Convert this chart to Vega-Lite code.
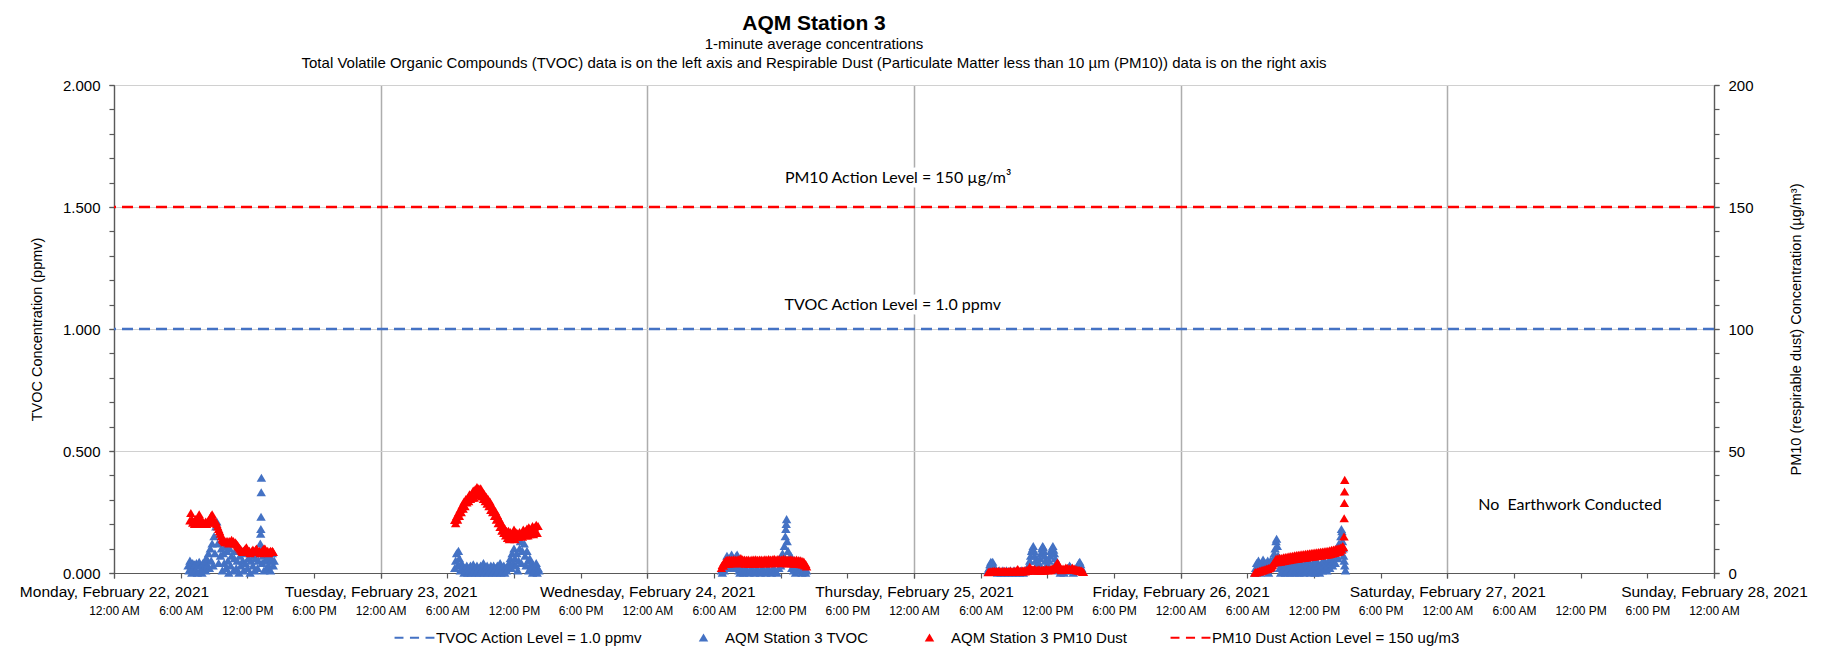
{
"$schema":"https://vega.github.io/schema/vega-lite/v6.json",
"width":1600,"height":488,
"autosize":"none",
"padding":{"left":114,"top":85,"right":109,"bottom":83},
"background":"white",
"title":{"text":"AQM Station 3","subtitle":["1-minute average concentrations","Total Volatile Organic Compounds (TVOC) data is on the left axis and Respirable Dust (Particulate Matter less than 10 µm (PM10)) data is on the right axis"],"anchor":"middle","dx":-100,"font":"Liberation Sans","fontSize":21,"fontWeight":"bold","color":"#000000","subtitleFont":"Liberation Sans","subtitleFontSize":15,"subtitleColor":"#000000","subtitlePadding":3,"subtitleLineHeight":19,"offset":7},
"datasets":{
"tvoc":[
{"t":"2021-02-22T06:40","v":0.03},{"t":"2021-02-22T06:45","v":0.01},{"t":"2021-02-22T06:50","v":0.05},{"t":"2021-02-22T06:55","v":0.02},{"t":"2021-02-22T07:00","v":0},{"t":"2021-02-22T07:05","v":0.04},{"t":"2021-02-22T07:10","v":0.02},{"t":"2021-02-22T07:15","v":0.035},{"t":"2021-02-22T07:20","v":0.01},{"t":"2021-02-22T07:25","v":0.04},{"t":"2021-02-22T07:30","v":0},{"t":"2021-02-22T07:35","v":0.03},{"t":"2021-02-22T07:40","v":0.045},{"t":"2021-02-22T07:45","v":0.01},{"t":"2021-02-22T07:50","v":0.03},{"t":"2021-02-22T07:55","v":0},{"t":"2021-02-22T08:00","v":0.04},{"t":"2021-02-22T08:05","v":0.02},{"t":"2021-02-22T08:10","v":0.05},{"t":"2021-02-22T08:15","v":0.01},{"t":"2021-02-22T08:20","v":0.06},{"t":"2021-02-22T08:25","v":0.03},{"t":"2021-02-22T08:30","v":0.08},{"t":"2021-02-22T08:35","v":0.02},{"t":"2021-02-22T08:40","v":0.1},{"t":"2021-02-22T08:45","v":0.05},{"t":"2021-02-22T08:50","v":0.12},{"t":"2021-02-22T08:55","v":0.03},{"t":"2021-02-22T09:00","v":0.15},{"t":"2021-02-22T09:05","v":0.08},{"t":"2021-02-22T09:10","v":0.19},{"t":"2021-02-22T09:15","v":0.21},{"t":"2021-02-22T09:20","v":0.12},{"t":"2021-02-22T09:25","v":0.04},{"t":"2021-02-22T09:30","v":0.16},{"t":"2021-02-22T09:35","v":0.07},{"t":"2021-02-22T09:40","v":0.1},{"t":"2021-02-22T09:45","v":0.01},{"t":"2021-02-22T09:50","v":0.08},{"t":"2021-02-22T09:55","v":0.04},{"t":"2021-02-22T10:00","v":0.11},{"t":"2021-02-22T10:05","v":0.02},{"t":"2021-02-22T10:10","v":0.09},{"t":"2021-02-22T10:15","v":0.05},{"t":"2021-02-22T10:20","v":0},{"t":"2021-02-22T10:25","v":0.1},{"t":"2021-02-22T10:30","v":0.03},{"t":"2021-02-22T10:35","v":0.07},{"t":"2021-02-22T10:40","v":0.12},{"t":"2021-02-22T10:45","v":0.01},{"t":"2021-02-22T10:50","v":0.06},{"t":"2021-02-22T10:55","v":0.09},{"t":"2021-02-22T11:00","v":0.02},{"t":"2021-02-22T11:05","v":0.05},{"t":"2021-02-22T11:10","v":0.1},{"t":"2021-02-22T11:15","v":0},{"t":"2021-02-22T11:20","v":0.07},{"t":"2021-02-22T11:25","v":0.03},{"t":"2021-02-22T11:30","v":0.09},{"t":"2021-02-22T11:35","v":0.05},{"t":"2021-02-22T11:40","v":0.01},{"t":"2021-02-22T11:45","v":0.08},{"t":"2021-02-22T11:50","v":0.04},{"t":"2021-02-22T11:55","v":0.1},{"t":"2021-02-22T12:00","v":0.02},{"t":"2021-02-22T12:05","v":0.06},{"t":"2021-02-22T12:10","v":0.09},{"t":"2021-02-22T12:15","v":0},{"t":"2021-02-22T12:20","v":0.05},{"t":"2021-02-22T12:25","v":0.08},{"t":"2021-02-22T12:30","v":0.03},{"t":"2021-02-22T12:35","v":0.07},{"t":"2021-02-22T12:40","v":0.01},{"t":"2021-02-22T12:45","v":0.06},{"t":"2021-02-22T12:50","v":0.09},{"t":"2021-02-22T12:55","v":0.02},{"t":"2021-02-22T13:00","v":0.05},{"t":"2021-02-22T13:05","v":0.08},{"t":"2021-02-22T13:10","v":0.12},{"t":"2021-02-22T13:12","v":0.16},{"t":"2021-02-22T13:13","v":0.18},{"t":"2021-02-22T13:14","v":0.23},{"t":"2021-02-22T13:15","v":0.33},{"t":"2021-02-22T13:16","v":0.39},{"t":"2021-02-22T13:18","v":0.1},{"t":"2021-02-22T13:20","v":0.04},{"t":"2021-02-22T13:25","v":0.07},{"t":"2021-02-22T13:30","v":0.01},{"t":"2021-02-22T13:35","v":0.05},{"t":"2021-02-22T13:40","v":0.08},{"t":"2021-02-22T13:45","v":0.02},{"t":"2021-02-22T13:50","v":0.06},{"t":"2021-02-22T13:55","v":0.03},{"t":"2021-02-22T14:00","v":0.07},{"t":"2021-02-22T14:05","v":0.01},{"t":"2021-02-22T14:10","v":0.05},{"t":"2021-02-22T14:15","v":0.08},{"t":"2021-02-22T14:20","v":0.03},{"t":"2021-02-22T14:25","v":0.05},
{"t":"2021-02-23T06:40","v":0.02},{"t":"2021-02-23T06:45","v":0.05},{"t":"2021-02-23T06:50","v":0.08},{"t":"2021-02-23T06:55","v":0.03},{"t":"2021-02-23T07:00","v":0.09},{"t":"2021-02-23T07:05","v":0.06},{"t":"2021-02-23T07:10","v":0.01},{"t":"2021-02-23T07:15","v":0.04},{"t":"2021-02-23T07:20","v":0.02},{"t":"2021-02-23T07:25","v":0.03},{"t":"2021-02-23T07:30","v":0},{"t":"2021-02-23T07:35","v":0.02},{"t":"2021-02-23T07:40","v":0.01},{"t":"2021-02-23T07:45","v":0.03},{"t":"2021-02-23T07:50","v":0},{"t":"2021-02-23T07:55","v":0.02},{"t":"2021-02-23T08:00","v":0.01},{"t":"2021-02-23T08:05","v":0.03},{"t":"2021-02-23T08:10","v":0},{"t":"2021-02-23T08:15","v":0.02},{"t":"2021-02-23T08:20","v":0.035},{"t":"2021-02-23T08:25","v":0.01},{"t":"2021-02-23T08:30","v":0.02},{"t":"2021-02-23T08:35","v":0},{"t":"2021-02-23T08:40","v":0.03},{"t":"2021-02-23T08:45","v":0.01},{"t":"2021-02-23T08:50","v":0.02},{"t":"2021-02-23T08:55","v":0},{"t":"2021-02-23T09:00","v":0.03},{"t":"2021-02-23T09:05","v":0.01},{"t":"2021-02-23T09:10","v":0.02},{"t":"2021-02-23T09:15","v":0.04},{"t":"2021-02-23T09:20","v":0},{"t":"2021-02-23T09:25","v":0.02},{"t":"2021-02-23T09:30","v":0.01},{"t":"2021-02-23T09:35","v":0.03},{"t":"2021-02-23T09:40","v":0},{"t":"2021-02-23T09:45","v":0.02},{"t":"2021-02-23T09:50","v":0.01},{"t":"2021-02-23T09:55","v":0.03},{"t":"2021-02-23T10:00","v":0.02},{"t":"2021-02-23T10:05","v":0},{"t":"2021-02-23T10:10","v":0.03},{"t":"2021-02-23T10:15","v":0.01},{"t":"2021-02-23T10:20","v":0.02},{"t":"2021-02-23T10:25","v":0},{"t":"2021-02-23T10:30","v":0.03},{"t":"2021-02-23T10:35","v":0.01},{"t":"2021-02-23T10:40","v":0.02},{"t":"2021-02-23T10:45","v":0.04},{"t":"2021-02-23T10:50","v":0},{"t":"2021-02-23T10:55","v":0.02},{"t":"2021-02-23T11:00","v":0.01},{"t":"2021-02-23T11:05","v":0.03},{"t":"2021-02-23T11:10","v":0},{"t":"2021-02-23T11:15","v":0.02},{"t":"2021-02-23T11:20","v":0.01},{"t":"2021-02-23T11:25","v":0.03},{"t":"2021-02-23T11:30","v":0.02},{"t":"2021-02-23T11:35","v":0.04},{"t":"2021-02-23T11:40","v":0.06},{"t":"2021-02-23T11:45","v":0.02},{"t":"2021-02-23T11:50","v":0.08},{"t":"2021-02-23T11:55","v":0.04},{"t":"2021-02-23T12:00","v":0.1},{"t":"2021-02-23T12:05","v":0.06},{"t":"2021-02-23T12:10","v":0.03},{"t":"2021-02-23T12:15","v":0.08},{"t":"2021-02-23T12:20","v":0.01},{"t":"2021-02-23T12:25","v":0.05},{"t":"2021-02-23T12:30","v":0.1},{"t":"2021-02-23T12:35","v":0.13},{"t":"2021-02-23T12:40","v":0.04},{"t":"2021-02-23T12:45","v":0.09},{"t":"2021-02-23T12:50","v":0.16},{"t":"2021-02-23T12:55","v":0.12},{"t":"2021-02-23T13:00","v":0.07},{"t":"2021-02-23T13:05","v":0.03},{"t":"2021-02-23T13:10","v":0.09},{"t":"2021-02-23T13:15","v":0.05},{"t":"2021-02-23T13:20","v":0.01},{"t":"2021-02-23T13:25","v":0.06},{"t":"2021-02-23T13:30","v":0.02},{"t":"2021-02-23T13:35","v":0.04},{"t":"2021-02-23T13:40","v":0},{"t":"2021-02-23T13:45","v":0.03},{"t":"2021-02-23T13:50","v":0.01},{"t":"2021-02-23T13:55","v":0.02},{"t":"2021-02-23T14:00","v":0.04},{"t":"2021-02-23T14:05","v":0},{"t":"2021-02-23T14:10","v":0.02},{"t":"2021-02-23T14:15","v":0.01},
{"t":"2021-02-24T06:40","v":0.01},{"t":"2021-02-24T06:45","v":0},{"t":"2021-02-24T06:50","v":0.02},{"t":"2021-02-24T06:55","v":0.01},{"t":"2021-02-24T07:00","v":0.03},{"t":"2021-02-24T07:05","v":0.05},{"t":"2021-02-24T07:10","v":0.07},{"t":"2021-02-24T07:15","v":0.04},{"t":"2021-02-24T07:20","v":0.06},{"t":"2021-02-24T07:25","v":0.02},{"t":"2021-02-24T07:30","v":0.05},{"t":"2021-02-24T07:35","v":0.075},{"t":"2021-02-24T07:40","v":0.03},{"t":"2021-02-24T07:45","v":0.06},{"t":"2021-02-24T07:50","v":0.02},{"t":"2021-02-24T07:55","v":0.04},{"t":"2021-02-24T08:00","v":0.07},{"t":"2021-02-24T08:05","v":0.075},{"t":"2021-02-24T08:10","v":0.03},{"t":"2021-02-24T08:15","v":0.01},{"t":"2021-02-24T08:20","v":0},{"t":"2021-02-24T08:25","v":0.02},{"t":"2021-02-24T08:30","v":0.01},{"t":"2021-02-24T08:40","v":0},{"t":"2021-02-24T08:50","v":0.02},{"t":"2021-02-24T09:00","v":0.01},{"t":"2021-02-24T09:10","v":0},{"t":"2021-02-24T09:20","v":0.02},{"t":"2021-02-24T09:30","v":0.01},{"t":"2021-02-24T09:40","v":0},{"t":"2021-02-24T09:50","v":0.02},{"t":"2021-02-24T10:00","v":0.01},{"t":"2021-02-24T10:10","v":0},{"t":"2021-02-24T10:20","v":0.02},{"t":"2021-02-24T10:30","v":0.01},{"t":"2021-02-24T10:40","v":0},{"t":"2021-02-24T10:50","v":0.02},{"t":"2021-02-24T11:00","v":0.01},{"t":"2021-02-24T11:10","v":0},{"t":"2021-02-24T11:20","v":0.02},{"t":"2021-02-24T11:30","v":0.01},{"t":"2021-02-24T11:40","v":0},{"t":"2021-02-24T11:50","v":0.02},{"t":"2021-02-24T12:00","v":0.03},{"t":"2021-02-24T12:05","v":0.05},{"t":"2021-02-24T12:10","v":0.08},{"t":"2021-02-24T12:15","v":0.04},{"t":"2021-02-24T12:20","v":0.11},{"t":"2021-02-24T12:25","v":0.15},{"t":"2021-02-24T12:28","v":0.18},{"t":"2021-02-24T12:30","v":0.2},{"t":"2021-02-24T12:32","v":0.22},{"t":"2021-02-24T12:35","v":0.13},{"t":"2021-02-24T12:40","v":0.09},{"t":"2021-02-24T12:45","v":0.06},{"t":"2021-02-24T12:50","v":0.04},{"t":"2021-02-24T12:55","v":0.07},{"t":"2021-02-24T13:00","v":0.02},{"t":"2021-02-24T13:05","v":0.04},{"t":"2021-02-24T13:10","v":0.01},{"t":"2021-02-24T13:15","v":0.03},{"t":"2021-02-24T13:20","v":0},{"t":"2021-02-24T13:25","v":0.02},{"t":"2021-02-24T13:30","v":0.04},{"t":"2021-02-24T13:35","v":0.01},{"t":"2021-02-24T13:40","v":0.03},{"t":"2021-02-24T13:45","v":0.05},{"t":"2021-02-24T13:50","v":0.02},{"t":"2021-02-24T13:55","v":0},{"t":"2021-02-24T14:00","v":0.03},{"t":"2021-02-24T14:05","v":0.01},{"t":"2021-02-24T14:10","v":0.02},{"t":"2021-02-24T14:15","v":0},{"t":"2021-02-24T14:20","v":0.01},
{"t":"2021-02-25T06:40","v":0.01},{"t":"2021-02-25T06:45","v":0.02},{"t":"2021-02-25T06:50","v":0.035},{"t":"2021-02-25T06:55","v":0.045},{"t":"2021-02-25T07:00","v":0.04},{"t":"2021-02-25T07:05","v":0.045},{"t":"2021-02-25T07:10","v":0.03},{"t":"2021-02-25T07:15","v":0.02},{"t":"2021-02-25T07:20","v":0.01},{"t":"2021-02-25T07:30","v":0},{"t":"2021-02-25T07:40","v":0.01},{"t":"2021-02-25T07:50","v":0},{"t":"2021-02-25T08:00","v":0.01},{"t":"2021-02-25T08:10","v":0},{"t":"2021-02-25T08:20","v":0.01},{"t":"2021-02-25T08:30","v":0},{"t":"2021-02-25T08:40","v":0.01},{"t":"2021-02-25T08:50","v":0},{"t":"2021-02-25T09:00","v":0.01},{"t":"2021-02-25T09:10","v":0},{"t":"2021-02-25T09:20","v":0.01},{"t":"2021-02-25T09:30","v":0},{"t":"2021-02-25T09:40","v":0.01},{"t":"2021-02-25T09:50","v":0},{"t":"2021-02-25T10:00","v":0.01},{"t":"2021-02-25T10:10","v":0.02},{"t":"2021-02-25T10:20","v":0.03},{"t":"2021-02-25T10:25","v":0.05},{"t":"2021-02-25T10:30","v":0.07},{"t":"2021-02-25T10:35","v":0.09},{"t":"2021-02-25T10:40","v":0.1},{"t":"2021-02-25T10:44","v":0.11},{"t":"2021-02-25T10:48","v":0.09},{"t":"2021-02-25T10:52","v":0.07},{"t":"2021-02-25T10:56","v":0.05},{"t":"2021-02-25T11:00","v":0.03},{"t":"2021-02-25T11:05","v":0.01},{"t":"2021-02-25T11:10","v":0.02},{"t":"2021-02-25T11:15","v":0.04},{"t":"2021-02-25T11:20","v":0.06},{"t":"2021-02-25T11:25","v":0.08},{"t":"2021-02-25T11:30","v":0.1},{"t":"2021-02-25T11:35","v":0.11},{"t":"2021-02-25T11:38","v":0.105},{"t":"2021-02-25T11:42","v":0.09},{"t":"2021-02-25T11:46","v":0.07},{"t":"2021-02-25T11:50","v":0.05},{"t":"2021-02-25T11:55","v":0.03},{"t":"2021-02-25T12:00","v":0.02},{"t":"2021-02-25T12:05","v":0.03},{"t":"2021-02-25T12:10","v":0.05},{"t":"2021-02-25T12:15","v":0.07},{"t":"2021-02-25T12:20","v":0.09},{"t":"2021-02-25T12:25","v":0.1},{"t":"2021-02-25T12:30","v":0.11},{"t":"2021-02-25T12:34","v":0.095},{"t":"2021-02-25T12:38","v":0.08},{"t":"2021-02-25T12:42","v":0.06},{"t":"2021-02-25T12:46","v":0.04},{"t":"2021-02-25T12:50","v":0.02},{"t":"2021-02-25T13:00","v":0.01},{"t":"2021-02-25T13:10","v":0},{"t":"2021-02-25T13:20","v":0.01},{"t":"2021-02-25T13:30","v":0},{"t":"2021-02-25T13:40","v":0.01},{"t":"2021-02-25T13:50","v":0.02},{"t":"2021-02-25T14:00","v":0.03},{"t":"2021-02-25T14:05","v":0.025},{"t":"2021-02-25T14:10","v":0.01},{"t":"2021-02-25T14:20","v":0},{"t":"2021-02-25T14:30","v":0.01},{"t":"2021-02-25T14:40","v":0.02},{"t":"2021-02-25T14:45","v":0.03},{"t":"2021-02-25T14:50","v":0.04},{"t":"2021-02-25T14:55","v":0.045},{"t":"2021-02-25T15:00","v":0.035},{"t":"2021-02-25T15:05","v":0.02},{"t":"2021-02-25T15:10","v":0.01},
{"t":"2021-02-26T06:40","v":0},{"t":"2021-02-26T06:45","v":0.02},{"t":"2021-02-26T06:50","v":0.04},{"t":"2021-02-26T06:55","v":0.01},{"t":"2021-02-26T07:00","v":0.05},{"t":"2021-02-26T07:05","v":0.03},{"t":"2021-02-26T07:10","v":0},{"t":"2021-02-26T07:15","v":0.04},{"t":"2021-02-26T07:20","v":0.02},{"t":"2021-02-26T07:25","v":0.055},{"t":"2021-02-26T07:30","v":0.03},{"t":"2021-02-26T07:35","v":0.01},{"t":"2021-02-26T07:40","v":0.04},{"t":"2021-02-26T07:45","v":0.02},{"t":"2021-02-26T07:50","v":0.05},{"t":"2021-02-26T07:55","v":0},{"t":"2021-02-26T08:00","v":0.03},{"t":"2021-02-26T08:05","v":0.05},{"t":"2021-02-26T08:10","v":0.02},{"t":"2021-02-26T08:15","v":0.04},{"t":"2021-02-26T08:20","v":0.06},{"t":"2021-02-26T08:25","v":0.08},{"t":"2021-02-26T08:30","v":0.1},{"t":"2021-02-26T08:35","v":0.13},{"t":"2021-02-26T08:38","v":0.14},{"t":"2021-02-26T08:42","v":0.11},{"t":"2021-02-26T08:46","v":0.07},{"t":"2021-02-26T08:50","v":0.04},{"t":"2021-02-26T08:55","v":0.02},{"t":"2021-02-26T09:00","v":0},{"t":"2021-02-26T09:05","v":0.03},{"t":"2021-02-26T09:10","v":0.01},{"t":"2021-02-26T09:15","v":0.04},{"t":"2021-02-26T09:20","v":0.02},{"t":"2021-02-26T09:25","v":0},{"t":"2021-02-26T09:30","v":0.03},{"t":"2021-02-26T09:35","v":0.01},{"t":"2021-02-26T09:40","v":0.04},{"t":"2021-02-26T09:45","v":0.02},{"t":"2021-02-26T09:50","v":0},{"t":"2021-02-26T09:55","v":0.03},{"t":"2021-02-26T10:00","v":0.01},{"t":"2021-02-26T10:05","v":0.04},{"t":"2021-02-26T10:10","v":0.02},{"t":"2021-02-26T10:15","v":0},{"t":"2021-02-26T10:20","v":0.03},{"t":"2021-02-26T10:25","v":0.05},{"t":"2021-02-26T10:30","v":0.01},{"t":"2021-02-26T10:35","v":0.03},{"t":"2021-02-26T10:40","v":0},{"t":"2021-02-26T10:45","v":0.02},{"t":"2021-02-26T10:50","v":0.04},{"t":"2021-02-26T10:55","v":0.01},{"t":"2021-02-26T11:00","v":0.03},{"t":"2021-02-26T11:05","v":0},{"t":"2021-02-26T11:10","v":0.02},{"t":"2021-02-26T11:15","v":0.04},{"t":"2021-02-26T11:20","v":0.01},{"t":"2021-02-26T11:25","v":0.03},{"t":"2021-02-26T11:30","v":0.05},{"t":"2021-02-26T11:35","v":0.02},{"t":"2021-02-26T11:40","v":0},{"t":"2021-02-26T11:45","v":0.03},{"t":"2021-02-26T11:50","v":0.01},{"t":"2021-02-26T11:55","v":0.04},{"t":"2021-02-26T12:00","v":0.02},{"t":"2021-02-26T12:05","v":0},{"t":"2021-02-26T12:10","v":0.03},{"t":"2021-02-26T12:15","v":0.05},{"t":"2021-02-26T12:20","v":0.01},{"t":"2021-02-26T12:25","v":0.03},{"t":"2021-02-26T12:30","v":0},{"t":"2021-02-26T12:35","v":0.02},{"t":"2021-02-26T12:40","v":0.04},{"t":"2021-02-26T12:45","v":0.01},{"t":"2021-02-26T12:50","v":0.03},{"t":"2021-02-26T12:55","v":0.05},{"t":"2021-02-26T13:00","v":0.02},{"t":"2021-02-26T13:05","v":0.04},{"t":"2021-02-26T13:10","v":0.01},{"t":"2021-02-26T13:15","v":0.03},{"t":"2021-02-26T13:20","v":0.05},{"t":"2021-02-26T13:25","v":0.02},{"t":"2021-02-26T13:30","v":0.04},{"t":"2021-02-26T13:35","v":0.06},{"t":"2021-02-26T13:40","v":0.03},{"t":"2021-02-26T13:45","v":0.05},{"t":"2021-02-26T13:50","v":0.08},{"t":"2021-02-26T13:55","v":0.04},{"t":"2021-02-26T14:00","v":0.07},{"t":"2021-02-26T14:05","v":0.1},{"t":"2021-02-26T14:10","v":0.06},{"t":"2021-02-26T14:15","v":0.12},{"t":"2021-02-26T14:20","v":0.09},{"t":"2021-02-26T14:25","v":0.15},{"t":"2021-02-26T14:28","v":0.18},{"t":"2021-02-26T14:31","v":0.17},{"t":"2021-02-26T14:34","v":0.13},{"t":"2021-02-26T14:37","v":0.1},{"t":"2021-02-26T14:40","v":0.07},{"t":"2021-02-26T14:43","v":0.05},{"t":"2021-02-26T14:46","v":0.03},{"t":"2021-02-26T14:50","v":0.01}
],
"pm":[
{"t":"2021-02-22T06:50","v":21.5},{"t":"2021-02-22T06:55","v":24.5},{"t":"2021-02-22T07:00","v":22},{"t":"2021-02-22T07:05","v":20.5},{"t":"2021-02-22T07:10","v":21},{"t":"2021-02-22T07:15","v":20},{"t":"2021-02-22T07:20","v":22},{"t":"2021-02-22T07:25","v":21},{"t":"2021-02-22T07:30","v":20},{"t":"2021-02-22T07:35","v":21.5},{"t":"2021-02-22T07:40","v":24},{"t":"2021-02-22T07:45","v":22.5},{"t":"2021-02-22T07:50","v":21},{"t":"2021-02-22T07:55","v":20},{"t":"2021-02-22T08:00","v":21},{"t":"2021-02-22T08:05","v":20.5},{"t":"2021-02-22T08:10","v":20},{"t":"2021-02-22T08:15","v":21},{"t":"2021-02-22T08:20","v":20},{"t":"2021-02-22T08:25","v":21},{"t":"2021-02-22T08:30","v":20.5},{"t":"2021-02-22T08:35","v":21.5},{"t":"2021-02-22T08:40","v":22},{"t":"2021-02-22T08:45","v":23.5},{"t":"2021-02-22T08:50","v":24},{"t":"2021-02-22T08:55","v":22},{"t":"2021-02-22T09:00","v":21},{"t":"2021-02-22T09:05","v":20.5},{"t":"2021-02-22T09:10","v":21},{"t":"2021-02-22T09:15","v":20},{"t":"2021-02-22T09:20","v":19},{"t":"2021-02-22T09:25","v":18},{"t":"2021-02-22T09:30","v":17},{"t":"2021-02-22T09:35","v":16},{"t":"2021-02-22T09:40","v":15},{"t":"2021-02-22T09:45","v":14},{"t":"2021-02-22T09:50","v":13.5},{"t":"2021-02-22T09:55","v":13},{"t":"2021-02-22T10:00","v":12.5},{"t":"2021-02-22T10:05","v":13},{"t":"2021-02-22T10:10","v":12.5},{"t":"2021-02-22T10:15","v":13},{"t":"2021-02-22T10:20","v":12},{"t":"2021-02-22T10:25","v":13},{"t":"2021-02-22T10:30","v":12.5},{"t":"2021-02-22T10:35","v":13.5},{"t":"2021-02-22T10:40","v":12.5},{"t":"2021-02-22T10:45","v":13},{"t":"2021-02-22T10:50","v":12},{"t":"2021-02-22T10:55","v":12.5},{"t":"2021-02-22T11:00","v":12},{"t":"2021-02-22T11:05","v":11.5},{"t":"2021-02-22T11:10","v":11},{"t":"2021-02-22T11:15","v":10.5},{"t":"2021-02-22T11:20","v":10},{"t":"2021-02-22T11:25","v":9.5},{"t":"2021-02-22T11:30","v":9},{"t":"2021-02-22T11:35","v":8.5},{"t":"2021-02-22T11:40","v":9},{"t":"2021-02-22T11:45","v":9.5},{"t":"2021-02-22T11:50","v":10},{"t":"2021-02-22T11:55","v":10.5},{"t":"2021-02-22T12:00","v":9},{"t":"2021-02-22T12:05","v":8.5},{"t":"2021-02-22T12:10","v":9},{"t":"2021-02-22T12:15","v":8},{"t":"2021-02-22T12:20","v":8.5},{"t":"2021-02-22T12:25","v":9},{"t":"2021-02-22T12:30","v":9.5},{"t":"2021-02-22T12:35","v":9},{"t":"2021-02-22T12:40","v":8.5},{"t":"2021-02-22T12:45","v":9.5},{"t":"2021-02-22T12:50","v":10},{"t":"2021-02-22T12:55","v":9},{"t":"2021-02-22T13:00","v":8.5},{"t":"2021-02-22T13:05","v":9},{"t":"2021-02-22T13:10","v":8},{"t":"2021-02-22T13:15","v":8.5},{"t":"2021-02-22T13:20","v":9},{"t":"2021-02-22T13:25","v":9.5},{"t":"2021-02-22T13:30","v":10},{"t":"2021-02-22T13:35","v":10},{"t":"2021-02-22T13:40","v":9},{"t":"2021-02-22T13:45","v":8.5},{"t":"2021-02-22T13:50","v":9},{"t":"2021-02-22T13:55","v":8},{"t":"2021-02-22T14:00","v":8.5},{"t":"2021-02-22T14:05","v":9},{"t":"2021-02-22T14:10","v":8.5},{"t":"2021-02-22T14:15","v":9},{"t":"2021-02-22T14:20","v":8.5},
{"t":"2021-02-23T06:40","v":21.7},{"t":"2021-02-23T06:45","v":20.3},{"t":"2021-02-23T06:50","v":23.2},{"t":"2021-02-23T06:55","v":21.8},{"t":"2021-02-23T07:00","v":24.7},{"t":"2021-02-23T07:05","v":23.3},{"t":"2021-02-23T07:10","v":26.2},{"t":"2021-02-23T07:15","v":24.8},{"t":"2021-02-23T07:20","v":27.7},{"t":"2021-02-23T07:25","v":26.3},{"t":"2021-02-23T07:30","v":29.2},{"t":"2021-02-23T07:35","v":27.3},{"t":"2021-02-23T07:40","v":30.2},{"t":"2021-02-23T07:45","v":28.8},{"t":"2021-02-23T07:50","v":30.7},{"t":"2021-02-23T07:55","v":29.3},{"t":"2021-02-23T08:00","v":32.2},{"t":"2021-02-23T08:05","v":30.3},{"t":"2021-02-23T08:10","v":32.2},{"t":"2021-02-23T08:15","v":30.8},{"t":"2021-02-23T08:20","v":33.7},{"t":"2021-02-23T08:25","v":30.8},{"t":"2021-02-23T08:30","v":34.2},{"t":"2021-02-23T08:35","v":32.3},{"t":"2021-02-23T08:40","v":35.2},{"t":"2021-02-23T08:45","v":33.3},{"t":"2021-02-23T08:50","v":34.7},{"t":"2021-02-23T08:55","v":31.8},{"t":"2021-02-23T09:00","v":34.7},{"t":"2021-02-23T09:05","v":31.3},{"t":"2021-02-23T09:10","v":33.2},{"t":"2021-02-23T09:15","v":30.3},{"t":"2021-02-23T09:20","v":32.2},{"t":"2021-02-23T09:25","v":29.3},{"t":"2021-02-23T09:30","v":31.2},{"t":"2021-02-23T09:35","v":28.3},{"t":"2021-02-23T09:40","v":30.2},{"t":"2021-02-23T09:45","v":27.3},{"t":"2021-02-23T09:50","v":29.2},{"t":"2021-02-23T09:55","v":25.8},{"t":"2021-02-23T10:00","v":27.7},{"t":"2021-02-23T10:05","v":24.8},{"t":"2021-02-23T10:10","v":26.2},{"t":"2021-02-23T10:15","v":23.3},{"t":"2021-02-23T10:20","v":25.2},{"t":"2021-02-23T10:25","v":21.8},{"t":"2021-02-23T10:30","v":23.7},{"t":"2021-02-23T10:35","v":20.3},{"t":"2021-02-23T10:40","v":22.2},{"t":"2021-02-23T10:45","v":18.8},{"t":"2021-02-23T10:50","v":20.7},{"t":"2021-02-23T10:55","v":17.3},{"t":"2021-02-23T11:00","v":19.2},{"t":"2021-02-23T11:05","v":16.3},{"t":"2021-02-23T11:10","v":18.2},{"t":"2021-02-23T11:15","v":15.3},{"t":"2021-02-23T11:20","v":17.2},{"t":"2021-02-23T11:25","v":14.3},{"t":"2021-02-23T11:30","v":17.2},{"t":"2021-02-23T11:35","v":13.8},{"t":"2021-02-23T11:40","v":16.7},{"t":"2021-02-23T11:45","v":14.8},{"t":"2021-02-23T11:50","v":16.2},{"t":"2021-02-23T11:55","v":14.3},{"t":"2021-02-23T12:00","v":17.7},{"t":"2021-02-23T12:05","v":13.8},{"t":"2021-02-23T12:10","v":16.7},{"t":"2021-02-23T12:15","v":14.8},{"t":"2021-02-23T12:20","v":16.2},{"t":"2021-02-23T12:25","v":14.8},{"t":"2021-02-23T12:30","v":16.7},{"t":"2021-02-23T12:35","v":15.3},{"t":"2021-02-23T12:40","v":16.2},{"t":"2021-02-23T12:45","v":14.8},{"t":"2021-02-23T12:50","v":17.7},{"t":"2021-02-23T12:55","v":15.8},{"t":"2021-02-23T13:00","v":17.2},{"t":"2021-02-23T13:05","v":15.3},{"t":"2021-02-23T13:10","v":18.2},{"t":"2021-02-23T13:15","v":15.3},{"t":"2021-02-23T13:20","v":18.7},{"t":"2021-02-23T13:25","v":15.8},{"t":"2021-02-23T13:30","v":17.7},{"t":"2021-02-23T13:35","v":16.3},{"t":"2021-02-23T13:40","v":19.2},{"t":"2021-02-23T13:45","v":15.8},{"t":"2021-02-23T13:50","v":18.7},{"t":"2021-02-23T13:55","v":16.8},{"t":"2021-02-23T14:00","v":19.7},{"t":"2021-02-23T14:05","v":16.3},{"t":"2021-02-23T14:10","v":19.2},
{"t":"2021-02-24T06:40","v":2},{"t":"2021-02-24T06:45","v":3.2},{"t":"2021-02-24T06:50","v":2.9},{"t":"2021-02-24T06:55","v":4.4},{"t":"2021-02-24T07:00","v":3.6},{"t":"2021-02-24T07:05","v":5.2},{"t":"2021-02-24T07:10","v":3.8},{"t":"2021-02-24T07:15","v":5.4},{"t":"2021-02-24T07:20","v":3.7},{"t":"2021-02-24T07:25","v":5.5},{"t":"2021-02-24T07:30","v":3.9},{"t":"2021-02-24T07:35","v":5.3},{"t":"2021-02-24T07:40","v":4},{"t":"2021-02-24T07:45","v":5.6},{"t":"2021-02-24T07:50","v":3.8},{"t":"2021-02-24T07:55","v":5.4},{"t":"2021-02-24T08:00","v":4.1},{"t":"2021-02-24T08:05","v":5.5},{"t":"2021-02-24T08:10","v":3.9},{"t":"2021-02-24T08:15","v":5.7},{"t":"2021-02-24T08:20","v":4.2},{"t":"2021-02-24T08:25","v":6.1},{"t":"2021-02-24T08:30","v":4.3},{"t":"2021-02-24T08:35","v":5.6},{"t":"2021-02-24T08:40","v":3.8},{"t":"2021-02-24T08:45","v":5.4},{"t":"2021-02-24T08:50","v":3.7},{"t":"2021-02-24T08:55","v":5.3},{"t":"2021-02-24T09:00","v":3.9},{"t":"2021-02-24T09:05","v":5.5},{"t":"2021-02-24T09:10","v":3.8},{"t":"2021-02-24T09:15","v":5.2},{"t":"2021-02-24T09:20","v":3.7},{"t":"2021-02-24T09:25","v":5.4},{"t":"2021-02-24T09:30","v":3.9},{"t":"2021-02-24T09:35","v":5.5},{"t":"2021-02-24T09:40","v":3.8},{"t":"2021-02-24T09:45","v":5.6},{"t":"2021-02-24T09:50","v":3.9},{"t":"2021-02-24T09:55","v":5.3},{"t":"2021-02-24T10:00","v":3.7},{"t":"2021-02-24T10:05","v":5.4},{"t":"2021-02-24T10:10","v":4},{"t":"2021-02-24T10:15","v":5.5},{"t":"2021-02-24T10:20","v":3.8},{"t":"2021-02-24T10:25","v":5.3},{"t":"2021-02-24T10:30","v":4.1},{"t":"2021-02-24T10:35","v":5.6},{"t":"2021-02-24T10:40","v":3.9},{"t":"2021-02-24T10:45","v":5.4},{"t":"2021-02-24T10:50","v":3.8},{"t":"2021-02-24T10:55","v":5.7},{"t":"2021-02-24T11:00","v":4},{"t":"2021-02-24T11:05","v":5.5},{"t":"2021-02-24T11:10","v":3.9},{"t":"2021-02-24T11:15","v":5.6},{"t":"2021-02-24T11:20","v":4.1},{"t":"2021-02-24T11:25","v":5.8},{"t":"2021-02-24T11:30","v":3.9},{"t":"2021-02-24T11:35","v":5.5},{"t":"2021-02-24T11:40","v":4},{"t":"2021-02-24T11:45","v":5.7},{"t":"2021-02-24T11:50","v":4.2},{"t":"2021-02-24T11:55","v":5.6},{"t":"2021-02-24T12:00","v":3.9},{"t":"2021-02-24T12:05","v":5.5},{"t":"2021-02-24T12:10","v":4.1},{"t":"2021-02-24T12:15","v":5.8},{"t":"2021-02-24T12:20","v":4},{"t":"2021-02-24T12:25","v":5.6},{"t":"2021-02-24T12:30","v":3.9},{"t":"2021-02-24T12:35","v":5.5},{"t":"2021-02-24T12:40","v":3.8},{"t":"2021-02-24T12:45","v":5.4},{"t":"2021-02-24T12:50","v":4},{"t":"2021-02-24T12:55","v":5.6},{"t":"2021-02-24T13:00","v":3.9},{"t":"2021-02-24T13:05","v":5.3},{"t":"2021-02-24T13:10","v":3.8},{"t":"2021-02-24T13:15","v":5.2},{"t":"2021-02-24T13:20","v":3.7},{"t":"2021-02-24T13:25","v":5.4},{"t":"2021-02-24T13:30","v":3.8},{"t":"2021-02-24T13:35","v":5.2},{"t":"2021-02-24T13:40","v":3.6},{"t":"2021-02-24T13:45","v":5.1},{"t":"2021-02-24T13:50","v":3.5},{"t":"2021-02-24T13:55","v":4.9},{"t":"2021-02-24T14:00","v":3.4},{"t":"2021-02-24T14:05","v":4.6},{"t":"2021-02-24T14:10","v":3},{"t":"2021-02-24T14:15","v":3.6},{"t":"2021-02-24T14:20","v":2.6},
{"t":"2021-02-25T06:40","v":0.2},{"t":"2021-02-25T06:45","v":0.5},{"t":"2021-02-25T06:50","v":0.3},{"t":"2021-02-25T06:55","v":0.6},{"t":"2021-02-25T07:00","v":0.4},{"t":"2021-02-25T07:05","v":0.7},{"t":"2021-02-25T07:10","v":0.5},{"t":"2021-02-25T07:15","v":0.8},{"t":"2021-02-25T07:20","v":0.4},{"t":"2021-02-25T07:25","v":0.6},{"t":"2021-02-25T07:30","v":0.5},{"t":"2021-02-25T07:35","v":0.8},{"t":"2021-02-25T07:40","v":0.4},{"t":"2021-02-25T07:45","v":0.6},{"t":"2021-02-25T07:50","v":0.5},{"t":"2021-02-25T07:55","v":0.7},{"t":"2021-02-25T08:00","v":0.4},{"t":"2021-02-25T08:05","v":0.6},{"t":"2021-02-25T08:10","v":0.8},{"t":"2021-02-25T08:15","v":0.5},{"t":"2021-02-25T08:20","v":0.6},{"t":"2021-02-25T08:25","v":0.4},{"t":"2021-02-25T08:30","v":0.7},{"t":"2021-02-25T08:35","v":0.5},{"t":"2021-02-25T08:40","v":0.8},{"t":"2021-02-25T08:45","v":0.6},{"t":"2021-02-25T08:50","v":0.4},{"t":"2021-02-25T08:55","v":0.7},{"t":"2021-02-25T09:00","v":0.5},{"t":"2021-02-25T09:05","v":0.8},{"t":"2021-02-25T09:10","v":0.6},{"t":"2021-02-25T09:15","v":1},{"t":"2021-02-25T09:20","v":1.6},{"t":"2021-02-25T09:25","v":0.9},{"t":"2021-02-25T09:30","v":0.6},{"t":"2021-02-25T09:35","v":0.8},{"t":"2021-02-25T09:40","v":0.5},{"t":"2021-02-25T09:45","v":0.9},{"t":"2021-02-25T09:50","v":0.7},{"t":"2021-02-25T09:55","v":1},{"t":"2021-02-25T10:00","v":0.6},{"t":"2021-02-25T10:05","v":0.9},{"t":"2021-02-25T10:10","v":1.2},{"t":"2021-02-25T10:15","v":0.8},{"t":"2021-02-25T10:20","v":1.5},{"t":"2021-02-25T10:25","v":2.5},{"t":"2021-02-25T10:30","v":1.8},{"t":"2021-02-25T10:35","v":1},{"t":"2021-02-25T10:40","v":1.4},{"t":"2021-02-25T10:45","v":1.1},{"t":"2021-02-25T10:50","v":1.6},{"t":"2021-02-25T10:55","v":1.2},{"t":"2021-02-25T11:00","v":0.9},{"t":"2021-02-25T11:05","v":1.3},{"t":"2021-02-25T11:10","v":1},{"t":"2021-02-25T11:15","v":1.5},{"t":"2021-02-25T11:20","v":1.1},{"t":"2021-02-25T11:25","v":0.8},{"t":"2021-02-25T11:30","v":1.2},{"t":"2021-02-25T11:35","v":0.9},{"t":"2021-02-25T11:40","v":1.4},{"t":"2021-02-25T11:45","v":1},{"t":"2021-02-25T11:50","v":1.3},{"t":"2021-02-25T11:55","v":1.6},{"t":"2021-02-25T12:00","v":1.1},{"t":"2021-02-25T12:05","v":1.4},{"t":"2021-02-25T12:10","v":1},{"t":"2021-02-25T12:15","v":1.5},{"t":"2021-02-25T12:20","v":1.2},{"t":"2021-02-25T12:25","v":1.8},{"t":"2021-02-25T12:30","v":1.5},{"t":"2021-02-25T12:35","v":1.9},{"t":"2021-02-25T12:40","v":2.2},{"t":"2021-02-25T12:45","v":2.8},{"t":"2021-02-25T12:50","v":3.6},{"t":"2021-02-25T12:55","v":4.2},{"t":"2021-02-25T13:00","v":3.5},{"t":"2021-02-25T13:05","v":2.4},{"t":"2021-02-25T13:10","v":1.6},{"t":"2021-02-25T13:15","v":1.1},{"t":"2021-02-25T13:20","v":1.4},{"t":"2021-02-25T13:25","v":1.8},{"t":"2021-02-25T13:30","v":1.2},{"t":"2021-02-25T13:35","v":1.6},{"t":"2021-02-25T13:40","v":2.2},{"t":"2021-02-25T13:45","v":1.7},{"t":"2021-02-25T13:50","v":2},{"t":"2021-02-25T13:55","v":1.4},{"t":"2021-02-25T14:00","v":1.8},{"t":"2021-02-25T14:05","v":1.2},{"t":"2021-02-25T14:10","v":1.6},{"t":"2021-02-25T14:15","v":2.2},{"t":"2021-02-25T14:20","v":1.5},{"t":"2021-02-25T14:25","v":1.8},{"t":"2021-02-25T14:30","v":1.2},{"t":"2021-02-25T14:35","v":1.5},{"t":"2021-02-25T14:40","v":1},{"t":"2021-02-25T14:45","v":1.3},{"t":"2021-02-25T14:50","v":0.9},{"t":"2021-02-25T14:55","v":1.1},{"t":"2021-02-25T15:00","v":0.7},{"t":"2021-02-25T15:05","v":0.9},{"t":"2021-02-25T15:10","v":0.5},{"t":"2021-02-25T15:15","v":0.3},
{"t":"2021-02-26T06:40","v":0},{"t":"2021-02-26T06:45","v":0.3},{"t":"2021-02-26T06:50","v":0.1},{"t":"2021-02-26T06:55","v":0.5},{"t":"2021-02-26T07:00","v":0.4},{"t":"2021-02-26T07:05","v":0.8},{"t":"2021-02-26T07:10","v":0.6},{"t":"2021-02-26T07:15","v":1},{"t":"2021-02-26T07:20","v":0.9},{"t":"2021-02-26T07:25","v":1.3},{"t":"2021-02-26T07:30","v":1.1},{"t":"2021-02-26T07:35","v":1.5},{"t":"2021-02-26T07:40","v":1.4},{"t":"2021-02-26T07:45","v":1.8},{"t":"2021-02-26T07:50","v":1.6},{"t":"2021-02-26T07:55","v":2},{"t":"2021-02-26T08:00","v":1.9},{"t":"2021-02-26T08:05","v":2.3},{"t":"2021-02-26T08:10","v":2.6},{"t":"2021-02-26T08:15","v":3.2},{"t":"2021-02-26T08:20","v":3.8},{"t":"2021-02-26T08:25","v":4.3},{"t":"2021-02-26T08:30","v":4.8},{"t":"2021-02-26T08:35","v":5.8},{"t":"2021-02-26T08:40","v":4.3},{"t":"2021-02-26T08:45","v":6},{"t":"2021-02-26T08:50","v":4.6},{"t":"2021-02-26T08:55","v":6.2},{"t":"2021-02-26T09:00","v":4.6},{"t":"2021-02-26T09:05","v":6.1},{"t":"2021-02-26T09:10","v":4.8},{"t":"2021-02-26T09:15","v":6.4},{"t":"2021-02-26T09:20","v":4.9},{"t":"2021-02-26T09:25","v":6.5},{"t":"2021-02-26T09:30","v":5.1},{"t":"2021-02-26T09:35","v":6.6},{"t":"2021-02-26T09:40","v":5.2},{"t":"2021-02-26T09:45","v":6.8},{"t":"2021-02-26T09:50","v":5.3},{"t":"2021-02-26T09:55","v":6.9},{"t":"2021-02-26T10:00","v":5.5},{"t":"2021-02-26T10:05","v":7},{"t":"2021-02-26T10:10","v":5.6},{"t":"2021-02-26T10:15","v":7.2},{"t":"2021-02-26T10:20","v":5.7},{"t":"2021-02-26T10:25","v":7.3},{"t":"2021-02-26T10:30","v":5.8},{"t":"2021-02-26T10:35","v":7.4},{"t":"2021-02-26T10:40","v":5.9},{"t":"2021-02-26T10:45","v":7.5},{"t":"2021-02-26T10:50","v":6},{"t":"2021-02-26T10:55","v":7.6},{"t":"2021-02-26T11:00","v":6.1},{"t":"2021-02-26T11:05","v":7.7},{"t":"2021-02-26T11:10","v":6.2},{"t":"2021-02-26T11:15","v":7.8},{"t":"2021-02-26T11:20","v":6.3},{"t":"2021-02-26T11:25","v":7.9},{"t":"2021-02-26T11:30","v":6.4},{"t":"2021-02-26T11:35","v":8},{"t":"2021-02-26T11:40","v":6.5},{"t":"2021-02-26T11:45","v":8.1},{"t":"2021-02-26T11:50","v":6.6},{"t":"2021-02-26T11:55","v":8.2},{"t":"2021-02-26T12:00","v":6.7},{"t":"2021-02-26T12:05","v":8.3},{"t":"2021-02-26T12:10","v":6.8},{"t":"2021-02-26T12:15","v":8.4},{"t":"2021-02-26T12:20","v":6.9},{"t":"2021-02-26T12:25","v":8.5},{"t":"2021-02-26T12:30","v":7},{"t":"2021-02-26T12:35","v":8.6},{"t":"2021-02-26T12:40","v":7.1},{"t":"2021-02-26T12:45","v":8.7},{"t":"2021-02-26T12:50","v":7.2},{"t":"2021-02-26T12:55","v":8.8},{"t":"2021-02-26T13:00","v":7.3},{"t":"2021-02-26T13:05","v":8.9},{"t":"2021-02-26T13:10","v":7.4},{"t":"2021-02-26T13:15","v":9},{"t":"2021-02-26T13:20","v":7.5},{"t":"2021-02-26T13:25","v":9.2},{"t":"2021-02-26T13:30","v":7.7},{"t":"2021-02-26T13:35","v":9.4},{"t":"2021-02-26T13:40","v":7.9},{"t":"2021-02-26T13:45","v":9.6},{"t":"2021-02-26T13:50","v":8.1},{"t":"2021-02-26T13:55","v":9.8},{"t":"2021-02-26T14:00","v":8.3},{"t":"2021-02-26T14:05","v":10},{"t":"2021-02-26T14:10","v":8.5},{"t":"2021-02-26T14:15","v":10.2},{"t":"2021-02-26T14:20","v":8.8},{"t":"2021-02-26T14:25","v":10.5},{"t":"2021-02-26T14:30","v":9.5},{"t":"2021-02-26T14:35","v":11},{"t":"2021-02-26T14:40","v":10.5},{"t":"2021-02-26T14:42","v":14.9},{"t":"2021-02-26T14:43","v":22.4},{"t":"2021-02-26T14:44","v":28.6},{"t":"2021-02-26T14:45","v":33.3},{"t":"2021-02-26T14:46","v":38.1}
],
"notes":[
{"t":"2021-02-24T22:34","v":1.619,"label":"PM10 Action Level = 150 µg/m³"},
{"t":"2021-02-24T22:05","v":1.098,"label":"TVOC Action Level = 1.0 ppmv"},
{"t":"2021-02-27T11:02","v":0.279,"label":"No\u00a0 Earthwork Conducted"}
]
},
"layer":[
{"data":{"values":[{"level":1}]},"mark":{"type":"rule","color":"#4472C4","strokeWidth":2.5,"strokeDash":[11,6]},
 "encoding":{"y":{"field":"level","type":"quantitative","scale":{"domain":[0,2],"nice":false},
  "axis":{"orient":"left","values":[0,0.1,0.2,0.3,0.4,0.5,0.6,0.7,0.8,0.9,1,1.1,1.2,1.3,1.4,1.5,1.6,1.7,1.8,1.9,2],"labels":false,"grid":false,"domain":false,"ticks":true,"tickSize":5,"title":null}}}},
{"data":{"values":[{"level":150}]},"mark":{"type":"rule","color":"#FF0000","strokeWidth":2.5,"strokeDash":[11,6]},
 "encoding":{"y":{"field":"level","type":"quantitative","scale":{"domain":[0,200],"nice":false},
  "axis":{"orient":"right","values":[0,10,20,30,40,50,60,70,80,90,100,110,120,130,140,150,160,170,180,190,200],"labels":false,"grid":false,"domain":false,"ticks":true,"tickSize":5,"title":null}}}},
{"data":{"name":"notes"},
 "mark":{"type":"text","font":"Lato","fontSize":16,"fill":"white","stroke":"white","strokeWidth":9,"strokeJoin":"round","align":"center","baseline":"middle"},
 "encoding":{"x":{"field":"t","type":"temporal","scale":{"domain":[{"year":2021,"month":2,"date":22},{"year":2021,"month":2,"date":28}]},"axis":null},
  "y":{"field":"v","type":"quantitative","scale":{"domain":[0,2],"nice":false},"axis":null},
  "text":{"field":"label"}}},
{"data":{"name":"notes"},
 "mark":{"type":"text","font":"Lato","fontSize":16,"fill":"#000000","align":"center","baseline":"middle"},
 "encoding":{"x":{"field":"t","type":"temporal","scale":{"domain":[{"year":2021,"month":2,"date":22},{"year":2021,"month":2,"date":28}]},"axis":null},
  "y":{"field":"v","type":"quantitative","scale":{"domain":[0,2],"nice":false},"axis":null},
  "text":{"field":"label"}}},
{"data":{"name":"tvoc"},
 "mark":{"type":"point","filled":true,"size":1225,"opacity":1},
 "encoding":{
  "x":{"field":"t","type":"temporal","scale":{"domain":[{"year":2021,"month":2,"date":22},{"year":2021,"month":2,"date":28}]},
   "axis":{"orient":"bottom","title":null,"values":[{"year":2021,"month":2,"date":22},{"year":2021,"month":2,"date":23},{"year":2021,"month":2,"date":24},{"year":2021,"month":2,"date":25},{"year":2021,"month":2,"date":26},{"year":2021,"month":2,"date":27},{"year":2021,"month":2,"date":28}],"format":"%A, %B %-d, %Y","labelFontSize":15.5,"labelPadding":6,"tickSize":5,"labelOverlap":false,"labelBound":false,"labelFlush":false,"labelLimit":400,"grid":true,"gridColor":"#adadad","gridWidth":1.5}},
  "y":{"field":"v","type":"quantitative","scale":{"domain":[0,2],"nice":false},
   "axis":{"orient":"left","title":"TVOC Concentration (ppmv)","titleFontSize":14.5,"titleFontWeight":"normal","titlePadding":18,"values":[0,0.5,1,1.5,2],"format":".3f","labelFontSize":15,"labelPadding":9,"tickSize":5,"labelOverlap":false,"grid":true,"gridColor":"#d0d0d0"}},
  "color":{"datum":"AQM Station 3 TVOC","type":"nominal","scale":{"domain":["TVOC Action Level = 1.0 ppmv","AQM Station 3 TVOC","AQM Station 3 PM10 Dust","PM10 Dust Action Level = 150 ug/m3"],"range":["#4472C4","#4472C4","#FF0000","#FF0000"]},
   "legend":{"orient":"none","legendX":283,"legendY":535,"direction":"horizontal","title":null,"labelFont":"Liberation Sans","labelFontSize":15,"labelColor":"#000000","symbolSize":1225,"symbolStrokeWidth":0,"labelOffset":4,"columnPadding":43,"padding":0,"labelLimit":400}},
  "shape":{"datum":"AQM Station 3 TVOC","type":"nominal","scale":{"domain":["TVOC Action Level = 1.0 ppmv","AQM Station 3 TVOC","AQM Station 3 PM10 Dust","PM10 Dust Action Level = 150 ug/m3"],"range":["M-1.14,-0.06H-0.63V0.06H-1.14Z M-0.26,-0.06H0.26V0.06H-0.26Z M0.63,-0.06H1.14V0.06H0.63Z","M0,-0.24L0.27,0.22L-0.27,0.22Z","M0,-0.24L0.27,0.22L-0.27,0.22Z","M-1.14,-0.06H-0.63V0.06H-1.14Z M-0.26,-0.06H0.26V0.06H-0.26Z M0.63,-0.06H1.14V0.06H0.63Z"]},
   "legend":{"orient":"none","legendX":283,"legendY":535,"direction":"horizontal","title":null,"labelFont":"Liberation Sans","labelFontSize":15,"labelColor":"#000000","symbolSize":1225,"symbolStrokeWidth":0,"labelOffset":4,"columnPadding":43,"padding":0,"labelLimit":400}}
 }},
{"data":{"name":"pm"},
 "mark":{"type":"point","filled":true,"size":1225,"opacity":1},
 "encoding":{
  "x":{"field":"t","type":"temporal","scale":{"domain":[{"year":2021,"month":2,"date":22},{"year":2021,"month":2,"date":28}]},
   "axis":{"orient":"bottom","title":null,"values":[{"year":2021,"month":2,"date":22,"hours":0},{"year":2021,"month":2,"date":22,"hours":6},{"year":2021,"month":2,"date":22,"hours":12},{"year":2021,"month":2,"date":22,"hours":18},{"year":2021,"month":2,"date":23,"hours":0},{"year":2021,"month":2,"date":23,"hours":6},{"year":2021,"month":2,"date":23,"hours":12},{"year":2021,"month":2,"date":23,"hours":18},{"year":2021,"month":2,"date":24,"hours":0},{"year":2021,"month":2,"date":24,"hours":6},{"year":2021,"month":2,"date":24,"hours":12},{"year":2021,"month":2,"date":24,"hours":18},{"year":2021,"month":2,"date":25,"hours":0},{"year":2021,"month":2,"date":25,"hours":6},{"year":2021,"month":2,"date":25,"hours":12},{"year":2021,"month":2,"date":25,"hours":18},{"year":2021,"month":2,"date":26,"hours":0},{"year":2021,"month":2,"date":26,"hours":6},{"year":2021,"month":2,"date":26,"hours":12},{"year":2021,"month":2,"date":26,"hours":18},{"year":2021,"month":2,"date":27,"hours":0},{"year":2021,"month":2,"date":27,"hours":6},{"year":2021,"month":2,"date":27,"hours":12},{"year":2021,"month":2,"date":27,"hours":18},{"year":2021,"month":2,"date":28,"hours":0}],"format":"%-I:%M %p","labelFontSize":12,"labelPadding":27,"domain":false,"ticks":true,"tickSize":5,"grid":false,"labelOverlap":false,"labelBound":false,"labelFlush":false}},
  "y":{"field":"v","type":"quantitative","scale":{"domain":[0,200],"nice":false},
   "axis":{"orient":"right","title":"PM10 (respirable dust) Concentration (µg/m³)","titleAngle":270,"titleBaseline":"top","titleFontSize":14.5,"titleFontWeight":"normal","titlePadding":36,"values":[0,50,100,150,200],"format":"d","labelFontSize":15,"labelPadding":9,"tickSize":5,"labelOverlap":false,"grid":false}},
  "color":{"datum":"AQM Station 3 PM10 Dust","type":"nominal"},
  "shape":{"datum":"AQM Station 3 PM10 Dust","type":"nominal"}
 }}
],
"resolve":{"scale":{"y":"independent"},"axis":{"x":"independent","y":"independent"}},
"config":{
 "view":{"stroke":null},
 "font":"Liberation Sans",
 "axis":{"labelFont":"Liberation Sans","titleFont":"Liberation Sans","labelColor":"#000000","titleColor":"#000000","domainColor":"#595959","tickColor":"#595959","domainWidth":1.2,"tickWidth":1.2}
}
}
